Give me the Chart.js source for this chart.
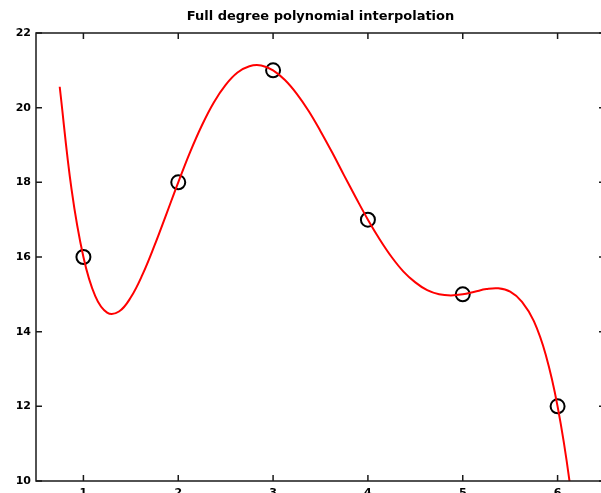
<!DOCTYPE html>
<html>
<head>
<meta charset="utf-8">
<script src="https://cdn.jsdelivr.net/npm/chart.js@4"></script>
<style>
  html, body { margin: 0; padding: 0; overflow: hidden; background: #fff; width: 601px; height: 493px; }
  #wrap { position: absolute; left: 0; top: 0; width: 620px; height: 510px; }
</style>
</head>
<body>
<div id="wrap"><canvas id="c" width="614" height="510"></canvas></div>
<script>
const chartTitle = 'Full degree polynomial interpolation';
const pointX = [1, 2, 3, 4, 5, 6];
const pointY = [16, 18, 21, 17, 15, 12];
const curveX = [0.75, 0.875, 1, 1.125, 1.25, 1.375, 1.5, 1.625, 1.75, 1.875,
                2, 2.125, 2.25, 2.375, 2.5, 2.625, 2.75, 2.875,
                3, 3.125, 3.25, 3.375, 3.5, 3.625, 3.75, 3.875,
                4, 4.125, 4.25, 4.375, 4.5, 4.625, 4.75, 4.875,
                5, 5.125, 5.25, 5.375, 5.5, 5.625, 5.75, 5.875,
                6, 6.125, 6.25];
const curveY = [20.56, 17.81, 16, 14.95, 14.51, 14.54, 14.92, 15.54, 16.31, 17.15,
                18, 18.81, 19.53, 20.14, 20.61, 20.94, 21.11, 21.13,
                21, 20.74, 20.37, 19.91, 19.37, 18.79, 18.18, 17.58,
                17, 16.47, 16.00, 15.61, 15.32, 15.11, 15.00, 14.97,
                15, 15.07, 15.14, 15.16, 15.07, 14.80, 14.28, 13.38,
                12, 10.01, 7.25];
const xTicks = [1, 2, 3, 4, 5, 6];
const yTicks = [10, 12, 14, 16, 18, 20, 22];

const curveData = curveX.map((x, i) => ({ x: x, y: curveY[i] }));
const pointData = pointX.map((x, i) => ({ x: x, y: pointY[i] }));

const framePlugin = {
  id: 'frame',
  afterDatasetsDraw(chart) {
    const ctx = chart.ctx;
    const a = chart.chartArea;
    const xs = chart.scales.x, ys = chart.scales.y;
    const tl = 6;
    ctx.save();
    ctx.strokeStyle = '#1a1a1a';
    ctx.lineWidth = 1.5;
    ctx.beginPath();
    ctx.rect(a.left, a.top, a.right - a.left, a.bottom - a.top);
    ctx.stroke();
    ctx.beginPath();
    xTicks.forEach(v => {
      const px = xs.getPixelForValue(v);
      ctx.moveTo(px, a.bottom); ctx.lineTo(px, a.bottom - tl);
      ctx.moveTo(px, a.top); ctx.lineTo(px, a.top + tl);
    });
    yTicks.forEach(v => {
      const py = ys.getPixelForValue(v);
      ctx.moveTo(a.left, py); ctx.lineTo(a.left + tl, py);
      ctx.moveTo(a.right, py); ctx.lineTo(a.right - tl, py);
    });
    ctx.stroke();
    // title centred over the plot area
    ctx.fillStyle = '#000';
    ctx.font = 'bold 13px "DejaVu Sans", Verdana, sans-serif';
    ctx.textAlign = 'center';
    ctx.textBaseline = 'alphabetic';
    ctx.fillText(chartTitle, (a.left + a.right) / 2, 19.5);
    ctx.restore();
  }
};

const tickFont = { family: 'DejaVu Sans, Verdana, sans-serif', size: 11, weight: 'bold' };

new Chart(document.getElementById('c'), {
  type: 'scatter',
  data: {
    datasets: [
      {
        label: 'interpolant',
        data: curveData,
        showLine: true,
        borderColor: '#ff0000',
        borderWidth: 2,
        pointRadius: 0,
        tension: 0.4,
        fill: false,
        clip: 0,
        order: 0
      },
      {
        label: 'data',
        data: pointData,
        showLine: false,
        pointRadius: 7,
        pointBorderWidth: 2,
        pointBorderColor: '#000',
        pointBackgroundColor: 'rgba(0,0,0,0)',
        order: 1
      }
    ]
  },
  plugins: [framePlugin],
  options: {
    responsive: false,
    animation: false,
    layout: { padding: { left: 0, right: 5.5, top: 33, bottom: 0 } },
    plugins: {
      legend: { display: false },
      tooltip: { enabled: false },
      title: { display: false }
    },
    scales: {
      x: {
        type: 'linear',
        min: 0.5,
        max: 6.5,
        afterBuildTicks: s => { s.ticks = xTicks.map(v => ({ value: v })); },
        afterFit: s => { s.height = 29; },
        grid: { display: false, drawTicks: false },
        border: { display: false },
        ticks: { padding: 6, color: '#000', font: tickFont }
      },
      y: {
        type: 'linear',
        min: 10,
        max: 22,
        afterBuildTicks: s => { s.ticks = yTicks.map(v => ({ value: v })); },
        afterFit: s => { s.width = 36; },
        grid: { display: false, drawTicks: false },
        border: { display: false },
        ticks: { padding: 5, color: '#000', font: tickFont }
      }
    }
  }
});
</script>
</body>
</html>
